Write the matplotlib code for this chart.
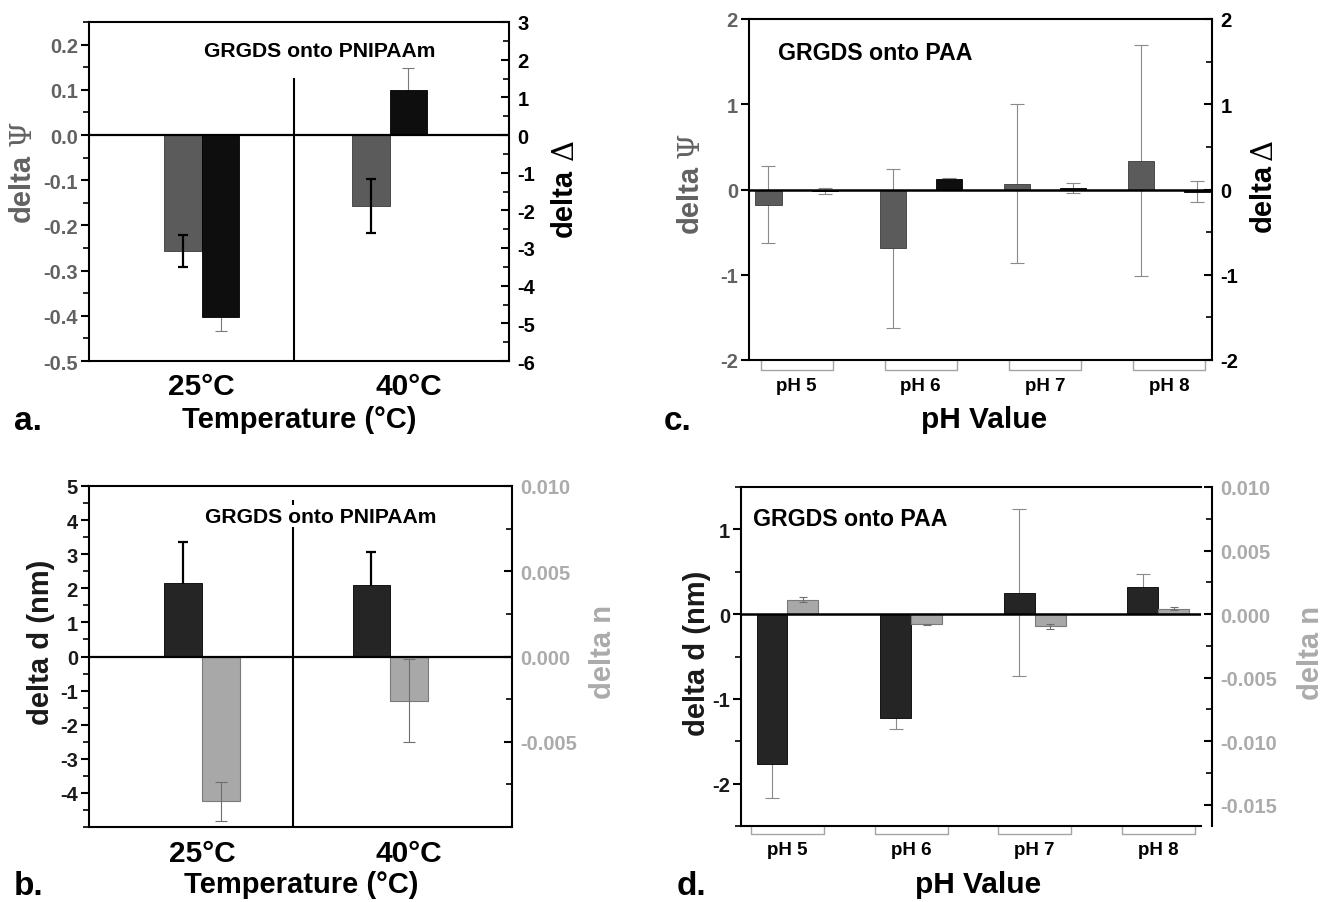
import numpy as np
import matplotlib
matplotlib.use('Agg')
import matplotlib.pyplot as plt
from matplotlib.ticker import MultipleLocator, FixedLocator, FormatStrFormatter

plt.rcParams['font.family'] = ['Liberation Sans', 'DejaVu Sans']
plt.rcParams['font.weight'] = 'bold'
plt.rcParams['axes.unicode_minus'] = False

# ---- data ----
temps = ['25°C', '40°C']
psi_temp = [-0.256, -0.157]
psi_temp_err = [0.035, 0.059]
dDelta_temp = [-4.84, 1.19]
dDelta_temp_err = [0.37, 0.60]

d_temp = [2.17, 2.11]
d_temp_err = [1.18, 0.94]
n_temp = [-0.00850, -0.00260]
n_temp_err = [0.00112, 0.00243]

ph = ['pH 5', 'pH 6', 'pH 7', 'pH 8']
psi_ph = [-0.18, -0.69, 0.07, 0.34]
psi_ph_err = [0.45, 0.93, 0.93, 1.35]
dDelta_ph = [-0.015, 0.12, 0.015, -0.025]
dDelta_ph_err = [0.035, 0.01, 0.06, 0.125]

d_ph = [-1.77, -1.23, 0.25, 0.32]
d_ph_err = [0.40, 0.13, 0.985, 0.15]
n_ph = [0.00113, -0.00080, -0.00096, 0.00044]
n_ph_err = [0.00020, 0.00003, 0.00020, 0.00008]

temp_label_pos = [0, 1.1]

# colours
PSI_BAR = '#5b5b5b'
DEL_BAR = '#0e0e0e'
D_BAR = '#252525'
N_BAR = '#a8a8a8'
PSI_TXT = '#626262'
N_TXT = '#ababab'
BRACKET = '#a5a5a5'

W, H = 1326, 903
fig = plt.figure(figsize=(W / 100, H / 100), dpi=100)


def box(l, t, r, b):
    return [l / W, 1 - b / H, (r - l) / W, (b - t) / H]


def ftext(x, y, s, **kw):
    fig.text(x / W, 1 - y / H, s, **kw)


def ylabel2(x, y_word, y_sym, word, sym, color):
    # bold sans word + thin serif greek symbol, rotated
    ftext(x, y_word, word, rotation=90, ha='center', va='center', fontsize=21, color=color)
    ftext(x + 1, y_sym, sym, rotation=90, ha='center', va='center', fontsize=21, color=color,
          family='DejaVu Serif', fontweight='normal')


def style(ax, ax2, lcol, rcol):
    for s in ['top', 'bottom', 'left']:
        ax.spines[s].set_linewidth(1.5)
        ax2.spines[s].set_visible(False)
    ax.spines['right'].set_visible(False)
    ax2.spines['right'].set_linewidth(1.5)
    ax.tick_params(axis='y', which='major', direction='out', length=6, width=1.5,
                   labelsize=14.5, labelcolor=lcol, pad=2)
    ax.tick_params(axis='y', which='minor', direction='out', length=4, width=1.2)
    ax2.tick_params(axis='y', which='major', direction='in', length=6, width=1.5,
                    labelsize=14.5, labelcolor=rcol, pad=6)
    ax2.tick_params(axis='y', which='minor', direction='in', length=4, width=1.2)
    ax.tick_params(axis='x', length=0)


def brackets(ax, n, half, depth):
    tr = ax.get_xaxis_transform()
    for c in range(n):
        ax.plot([c - half, c - half, c + half, c + half], [0, -depth, -depth, 0],
                color=BRACKET, lw=1, transform=tr, clip_on=False)


# ---------------- a ----------------
x2 = np.arange(len(temps))
ax = fig.add_axes(box(89, 23, 509, 362))
ax2 = ax.twinx()
ax.set_xlim(-0.60, 1.635)
ax.bar(x2 - 0.1, psi_temp, 0.2, color=PSI_BAR, edgecolor='#3a3a3a', lw=0.6, zorder=2)
ax.errorbar(x2 - 0.1, psi_temp, yerr=psi_temp_err, fmt='none', ecolor='black',
            elinewidth=1.6, capsize=3.5, capthick=1.6, zorder=3)
ax2.errorbar(x2 + 0.1, dDelta_temp, yerr=dDelta_temp_err, fmt='none', ecolor='#7a7a7a',
             elinewidth=0.8, capsize=4, capthick=0.8, zorder=1)
ax2.bar(x2 + 0.1, dDelta_temp, 0.2, color=DEL_BAR, edgecolor='black', lw=0.6, zorder=2)
ax2.axhline(0, color='black', lw=1.6, zorder=4)
ax.plot([0.49, 0.49], [-0.5, 0.125], color='black', lw=1.5)
ax.text(0.627, 0.187, 'GRGDS onto PNIPAAm', ha='center', va='center', fontsize=15.2)
ax.yaxis.set_major_locator(MultipleLocator(0.1))
ax.yaxis.set_minor_locator(MultipleLocator(0.05))
ax.yaxis.set_major_formatter(FormatStrFormatter('%.1f'))
ax.set_ylim(-0.5, 0.25)
ax2.yaxis.set_major_locator(MultipleLocator(1))
ax2.yaxis.set_minor_locator(MultipleLocator(0.5))
ax2.set_ylim(-6, 3)
ax.set_xticks(temp_label_pos, temps, fontsize=21.5)
ax.tick_params(axis='x', pad=8)
style(ax, ax2, PSI_TXT, 'black')

# ---------------- b ----------------
ax = fig.add_axes(box(89, 487, 512, 828))
ax2 = ax.twinx()
ax.set_xlim(-0.60, 1.647)
ax.errorbar(x2 - 0.1, d_temp, yerr=d_temp_err, fmt='none', ecolor='black',
            elinewidth=1.6, capsize=3.5, capthick=1.6, zorder=1)
ax.bar(x2 - 0.1, d_temp, 0.2, color=D_BAR, edgecolor='black', lw=0.6, zorder=2)
ax2.bar(x2 + 0.1, n_temp, 0.2, color=N_BAR, edgecolor='#7a7a7a', lw=0.8, zorder=2)
ax2.errorbar(x2 + 0.1, n_temp, yerr=n_temp_err, fmt='none', ecolor='#6e6e6e',
             elinewidth=0.8, capsize=4, capthick=0.8, zorder=3)
ax2.axhline(0, color='black', lw=1.6, zorder=4)
ax.plot([0.485, 0.485], [-5, 4.56], color='black', lw=1.5, zorder=1)
ax.text(0.63, 4.11, 'GRGDS onto PNIPAAm', ha='center', va='center', fontsize=15.2,
        zorder=5, bbox=dict(facecolor='white', edgecolor='none', pad=1))
ax.yaxis.set_major_locator(FixedLocator(range(-4, 6)))
ax.yaxis.set_minor_locator(MultipleLocator(0.5))
ax.yaxis.set_major_formatter(FormatStrFormatter('%d'))
ax.set_ylim(-5, 5)
ax2.yaxis.set_major_locator(FixedLocator([-0.005, 0.0, 0.005, 0.010]))
ax2.yaxis.set_minor_locator(MultipleLocator(0.0025))
ax2.yaxis.set_major_formatter(FormatStrFormatter('%.3f'))
ax2.set_ylim(-0.01, 0.01)
ax.set_xticks(temp_label_pos, temps, fontsize=21.5)
ax.tick_params(axis='x', pad=9)
style(ax, ax2, '#1a1a1a', N_TXT)

# ---------------- c ----------------
x4 = np.arange(len(ph))
ax = fig.add_axes(box(749, 20, 1212, 361))
ax2 = ax.twinx()
ax.set_xlim(-0.384, 3.347)
ax.errorbar(x4 - 0.227, psi_ph, yerr=psi_ph_err, fmt='none', ecolor='#8a8a8a',
            elinewidth=0.8, capsize=5, capthick=0.8, zorder=1)
ax.bar(x4 - 0.227, psi_ph, 0.21, color=PSI_BAR, edgecolor='#3a3a3a', lw=0.6, zorder=2)
ax2.errorbar(x4 + 0.227, dDelta_ph, yerr=dDelta_ph_err, fmt='none', ecolor='#8a8a8a',
             elinewidth=0.8, capsize=5, capthick=0.8, zorder=1)
ax2.bar(x4 + 0.227, dDelta_ph, 0.21, color=DEL_BAR, edgecolor='black', lw=0.6, zorder=2)
ax2.axhline(0, color='black', lw=1.8, zorder=4)
ax.text(-0.153, 1.61, 'GRGDS onto PAA', ha='left', va='center', fontsize=16.7)
ax.yaxis.set_major_locator(MultipleLocator(1))
ax.yaxis.set_major_formatter(FormatStrFormatter('%d'))
ax.set_ylim(-2, 2)
ax2.yaxis.set_major_locator(MultipleLocator(1))
ax2.yaxis.set_minor_locator(MultipleLocator(0.5))
ax2.yaxis.set_major_formatter(FormatStrFormatter('%d'))
ax2.set_ylim(-2, 2)
ax.set_xticks(x4, ph, fontsize=13.5)
ax.tick_params(axis='x', pad=12)
style(ax, ax2, PSI_TXT, 'black')
brackets(ax, len(ph), 0.29, 0.029)

# ---------------- d ----------------
ax = fig.add_axes(box(741, 488, 1201, 827))
ax2 = ax.twinx()
ax.set_xlim(-0.376, 3.346)
ax.errorbar(x4 - 0.125, d_ph, yerr=d_ph_err, fmt='none', ecolor='#8a8a8a',
            elinewidth=0.8, capsize=5, capthick=0.8, zorder=1)
ax.bar(x4 - 0.125, d_ph, 0.25, color=D_BAR, edgecolor='black', lw=0.6, zorder=2)
ax2.bar(x4 + 0.125, n_ph, 0.25, color=N_BAR, edgecolor='#7a7a7a', lw=0.8, zorder=2)
ax2.errorbar(x4 + 0.125, n_ph, yerr=n_ph_err, fmt='none', ecolor='#6e6e6e',
             elinewidth=0.8, capsize=3, capthick=0.8, zorder=3)
ax2.axhline(0, color='black', lw=1.8, zorder=4)
ax.text(-0.28, 1.13, 'GRGDS onto PAA', ha='left', va='center', fontsize=16.7)
ax.yaxis.set_major_locator(MultipleLocator(1))
ax.yaxis.set_minor_locator(MultipleLocator(0.5))
ax.yaxis.set_major_formatter(FormatStrFormatter('%d'))
ax.set_ylim(-2.5, 1.5)
ax2.yaxis.set_major_locator(MultipleLocator(0.005))
ax2.yaxis.set_minor_locator(MultipleLocator(0.0025))
ax2.yaxis.set_major_formatter(FormatStrFormatter('%.3f'))
ax2.set_ylim(-0.01667, 0.010)
ax.set_xticks(x4, ph, fontsize=13.5)
ax.tick_params(axis='x', pad=10.5)
style(ax, ax2, '#1a1a1a', N_TXT)
ax2.spines['right'].set_position(('outward', 8))
brackets(ax, len(ph), 0.295, 0.025)

# ---------------- figure texts ----------------
ftext(14, 430, 'a.', fontsize=24, va='baseline')
ftext(14, 895, 'b.', fontsize=24, va='baseline')
ftext(664, 430, 'c.', fontsize=24, va='baseline')
ftext(677, 895, 'd.', fontsize=24, va='baseline')

ftext(299.6, 428, 'Temperature (°C)', fontsize=21, ha='center', va='baseline')
ftext(301, 893, 'Temperature (°C)', fontsize=21, ha='center', va='baseline')
ftext(984.5, 428, 'pH Value', fontsize=21.5, ha='center', va='baseline')
ftext(977.6, 893, 'pH Value', fontsize=21.5, ha='center', va='baseline')

ylabel2(21.8, 188, 133, 'delta', 'Ψ', PSI_TXT)
ylabel2(563.5, 203, 150, 'delta', 'Δ', 'black')
ylabel2(690, 199, 145, 'delta', 'Ψ', PSI_TXT)
ylabel2(1262.5, 198, 150, 'delta', 'Δ', 'black')

ylab = dict(fontsize=21, rotation=90, ha='center', va='center')
ftext(41.5, 642, 'delta d (nm)', color='#1a1a1a', **ylab)
ftext(603, 652, 'delta n', color=N_TXT, **ylab)
ftext(697, 653.5, 'delta d (nm)', color='#1a1a1a', **ylab)
ftext(1311, 653, 'delta n', color=N_TXT, **ylab)

fig.savefig('out.png', dpi=100)
